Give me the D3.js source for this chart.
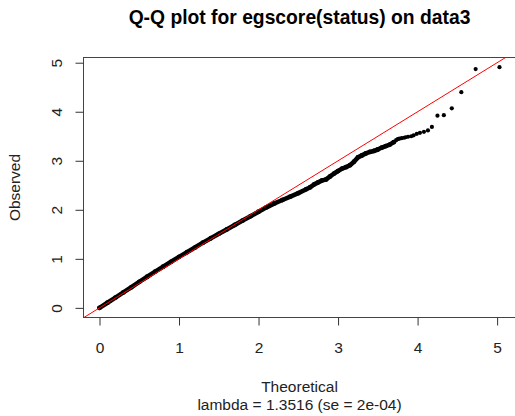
<!DOCTYPE html>
<html>
<head>
<meta charset="utf-8">
<script src="https://cdn.jsdelivr.net/npm/d3@7"></script>
<style>
  html, body { margin: 0; padding: 0; background: #fff; }
  svg { display: block; font-family: "Liberation Sans", Arial, sans-serif; }
</style>
</head>
<body>
<svg id="chart" width="515" height="416"></svg>
<script>
// ---- data ----
const titleText = "Q-Q plot for egscore(status) on data3";
const xLabel = "Theoretical";
const yLabel = "Observed";
const subLabel = "lambda = 1.3516 (se = 2e-04)";
const xTicks = [0, 1, 2, 3, 4, 5];
const yTicks = [0, 1, 2, 3, 4, 5];

// dense body of the Q-Q cloud (theoretical vs observed -log10 p)
const bandTheoretical = [0.0, 0.1, 0.2, 0.3, 0.4, 0.5, 0.6, 0.7, 0.8, 0.9, 1.0, 1.1, 1.2, 1.3, 1.4, 1.5, 1.6, 1.7, 1.8, 1.9, 2.0, 2.1, 2.2, 2.3, 2.4, 2.5, 2.6, 2.65, 2.7, 2.75, 2.8, 2.85, 2.9, 2.95, 3.0, 3.05, 3.1, 3.15, 3.2, 3.25, 3.3, 3.35, 3.4, 3.45, 3.5, 3.55, 3.6, 3.65, 3.7];
const bandObserved    = [0.0, 0.105, 0.21, 0.315, 0.42, 0.53, 0.635, 0.74, 0.84, 0.94, 1.04, 1.135, 1.23, 1.33, 1.42, 1.51, 1.60, 1.69, 1.78, 1.87, 1.96, 2.05, 2.13, 2.20, 2.27, 2.34, 2.42, 2.46, 2.52, 2.56, 2.60, 2.62, 2.68, 2.74, 2.79, 2.84, 2.87, 2.91, 2.98, 3.07, 3.11, 3.15, 3.18, 3.20, 3.23, 3.27, 3.30, 3.33, 3.38];

// sparse upper tail, individual points
const tailTheoretical = [5.03, 4.73, 4.55, 4.43, 4.33, 4.25, 4.18, 4.13, 4.08, 4.03, 3.99, 3.95, 3.92, 3.88, 3.85, 3.83, 3.80, 3.77, 3.75, 3.73];
const tailObserved    = [4.91, 4.87, 4.40, 4.07, 3.93, 3.92, 3.69, 3.62, 3.59, 3.57, 3.55, 3.52, 3.50, 3.49, 3.48, 3.47, 3.46, 3.45, 3.44, 3.42];

// ---- layout ----
const svg = d3.select("#chart");
const plot = { left: 83.5, right: 515.5, top: 57.5, bottom: 317.5 };

const xMax = d3.max(tailTheoretical), yMax = d3.max(tailObserved);
const x = d3.scaleLinear()
  .domain([-0.04 * xMax, xMax * 1.04])
  .range([plot.left, plot.right]);
const y = d3.scaleLinear()
  .domain([-0.04 * yMax, yMax * 1.04])
  .range([plot.bottom, plot.top]);

svg.append("clipPath").attr("id", "clip")
  .append("rect")
  .attr("x", plot.left).attr("y", plot.top)
  .attr("width", plot.right - plot.left).attr("height", plot.bottom - plot.top);

const g = svg.append("g").attr("clip-path", "url(#clip)");

const band = bandTheoretical.map((t, i) => [t, bandObserved[i]]);
const tail = tailTheoretical.map((t, i) => [t, tailObserved[i]]);

g.append("path")
  .datum(band)
  .attr("fill", "none")
  .attr("stroke", "#000")
  .attr("stroke-width", 4.6)
  .attr("stroke-linecap", "round")
  .attr("stroke-linejoin", "round")
  .attr("d", d3.line().x(d => x(d[0])).y(d => y(d[1])));

g.selectAll("circle.band")
  .data(band).enter().append("circle")
  .attr("class", "band")
  .attr("cx", d => x(d[0])).attr("cy", d => y(d[1]))
  .attr("r", 2.4).attr("fill", "#000");

g.selectAll("circle.tail")
  .data(tail).enter().append("circle")
  .attr("class", "tail")
  .attr("cx", d => x(d[0])).attr("cy", d => y(d[1]))
  .attr("r", 2.1).attr("fill", "#000");

// y = x reference line
const lo = Math.min(x.domain()[0], y.domain()[0]);
const hi = Math.max(x.domain()[1], y.domain()[1]);
g.append("line")
  .attr("x1", x(lo)).attr("y1", y(lo))
  .attr("x2", x(hi)).attr("y2", y(hi))
  .attr("stroke", "#ff0000").attr("stroke-width", 1);

// box
svg.append("rect")
  .attr("x", plot.left).attr("y", plot.top)
  .attr("width", plot.right - plot.left).attr("height", plot.bottom - plot.top)
  .attr("fill", "none").attr("stroke", "#444").attr("stroke-width", 1);

// axes
const xAxis = d3.axisBottom(x).tickValues(xTicks).tickSize(8).tickPadding(6).tickFormat(d3.format("d"));
const gx = svg.append("g").attr("transform", `translate(0,${plot.bottom})`).call(xAxis);
gx.select(".domain").remove();
gx.selectAll("line").attr("stroke", "#333");
gx.selectAll("text").attr("font-size", 15.5).attr("fill", "#222")
  .attr("dy", null).attr("y", 35.5);

const yAxis = d3.axisLeft(y).tickValues(yTicks).tickSize(8).tickFormat(d3.format("d"));
const gy = svg.append("g").attr("transform", `translate(${plot.left},0)`).call(yAxis);
gy.select(".domain").remove();
gy.selectAll("line").attr("stroke", "#333");
gy.selectAll("text")
  .attr("font-size", 15.5).attr("fill", "#222")
  .attr("x", null).attr("dy", null)
  .attr("text-anchor", "middle")
  .attr("transform", "translate(-21.5,0) rotate(-90)");

// titles
const cx = (plot.left + plot.right) / 2;
svg.append("text").attr("x", cx).attr("y", 24)
  .attr("text-anchor", "middle").attr("font-weight", "bold")
  .attr("font-size", 19.3).attr("fill", "#000").text(titleText);

svg.append("text").attr("x", cx).attr("y", 391.5)
  .attr("text-anchor", "middle").attr("font-size", 15.5).attr("fill", "#222").text(xLabel);

svg.append("text").attr("x", cx).attr("y", 410)
  .attr("text-anchor", "middle").attr("font-size", 15.5).attr("fill", "#222").text(subLabel);

svg.append("text")
  .attr("transform", `translate(20,${(plot.top + plot.bottom) / 2}) rotate(-90)`)
  .attr("text-anchor", "middle").attr("font-size", 15.5).attr("fill", "#222").text(yLabel);
</script>
</body>
</html>
